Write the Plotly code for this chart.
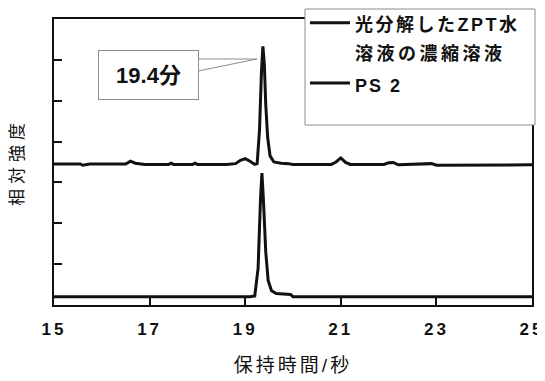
import plotly.graph_objects as go

# ---------------- data ----------------
upper_name_lines = ["光分解したZPT水", "溶液の濃縮溶液"]
lower_name = "PS 2"

upper_t = [15.0, 15.55, 15.6, 15.75, 16.5, 16.6, 16.7, 16.9, 17.4, 17.45, 17.5, 17.9, 17.95,
           18.0, 18.6, 18.8, 18.9, 19.0, 19.1, 19.2, 19.25, 19.3, 19.34, 19.37, 19.4, 19.43,
           19.47, 19.52, 19.6, 19.75, 19.9, 20.0, 20.8, 20.9, 21.0, 21.1, 21.2, 21.9, 22.0,
           22.1, 22.2, 22.5, 22.8, 22.9, 23.0, 23.4, 23.6, 25.0]
upper_v = [3.45, 3.45, 3.42, 3.45, 3.45, 3.52, 3.47, 3.44, 3.44, 3.47, 3.44, 3.44, 3.47,
           3.44, 3.44, 3.46, 3.54, 3.58, 3.52, 3.44, 3.46, 4.3, 5.7, 6.33, 5.9, 4.9,
           4.1, 3.65, 3.5, 3.47, 3.46, 3.44, 3.44, 3.5, 3.6, 3.49, 3.44, 3.44, 3.48,
           3.49, 3.43, 3.44, 3.44, 3.46, 3.42, 3.42, 3.43, 3.43]

lower_t = [15.0, 19.1, 19.2, 19.27, 19.32, 19.35, 19.38, 19.43, 19.48, 19.55, 19.65,
           19.95, 20.0, 25.0]
lower_v = [0.2, 0.2, 0.22, 0.9, 2.6, 3.23, 2.6, 1.3, 0.6, 0.35, 0.28,
           0.26, 0.2, 0.2]

x_ticks = [15, 17, 19, 21, 23, 25]
y_ticks = [1, 2, 3, 4, 5, 6]
peak_label = "19.4分"
x_title = "保持時間/秒"
y_title = "相対強度"

# ---------------- layout helpers ----------------
# The page body adds an 8px offset, so the figure is laid out in page
# coordinates shifted by OFF.
OFF = 8
W, H = 545 - OFF, 381 - OFF
# plot frame in screen pixels
SL, SR, ST, SB = 54, 532, 19, 305
L, R, T, B = SL - OFF, SR - OFF, ST - OFF, SB - OFF


def px(sx):
    return (sx - OFF - L) / (R - L)


def py(sy):
    return (B - (sy - OFF)) / (B - T)


def styled(s, sp, size=None, bold=False):
    st = f"letter-spacing:{sp}px"
    if size:
        st += f";font-size:{size}px"
    if bold:
        st += ";font-weight:bold"
    return f'<span style="{st}">{s}</span>'


FONT = "Liberation Sans, Arial, Noto Sans CJK JP, sans-serif"
INK = "#111111"
FRAME = "#8c8c8c"

fig = go.Figure()
fig.add_trace(go.Scatter(
    x=upper_t, y=upper_v, mode="lines",
    name=styled(upper_name_lines[0], 2.5, 18, True) + "<br>" + styled(upper_name_lines[1], 3.5, 18, True),
    line=dict(color=INK, width=3)))
fig.add_trace(go.Scatter(
    x=lower_t, y=lower_v, mode="lines",
    name=styled(lower_name, 2, 18, True),
    line=dict(color=INK, width=3)))

# legend frame
fig.add_shape(type="rect", xref="paper", yref="paper",
              x0=px(305), x1=px(535), y0=py(125), y1=py(9),
              line=dict(color=FRAME, width=1), fillcolor="white", layer="above")

# callout wedge
fig.add_shape(type="path", xref="paper", yref="paper",
              path=f"M {px(198)},{py(59)} L {px(257)},{py(59)} L {px(198)},{py(71)}",
              line=dict(color=FRAME, width=1), fillcolor="white", layer="above")

fig.add_annotation(xref="paper", yref="paper", x=px(148.5), y=py(75),
                   xanchor="center", yanchor="middle",
                   text="<b>" + peak_label + "</b>", showarrow=False,
                   width=97, height=46, bgcolor="white",
                   bordercolor=FRAME, borderwidth=1,
                   font=dict(size=22, color=INK, family=FONT))

fig.update_layout(
    width=W, height=H,
    margin=dict(l=L, r=W - R, t=T, b=H - B, autoexpand=False),
    paper_bgcolor="white", plot_bgcolor="white",
    showlegend=True,
    legend=dict(x=px(305), y=py(2), xanchor="left", yanchor="top",
                bgcolor="rgba(0,0,0,0)", borderwidth=0, valign="top",
                font=dict(size=22, color=INK, family=FONT),
                itemwidth=40, tracegroupgap=0),
    font=dict(family=FONT, color=INK),
)

fig.update_xaxes(range=[15, 25], tickvals=x_ticks,
                 ticktext=[styled(str(v), 3, bold=True) for v in x_ticks],
                 ticks="inside", ticklen=9, tickwidth=2, tickcolor=INK,
                 showline=True, linewidth=2, linecolor=INK, mirror=True,
                 showgrid=False, zeroline=False,
                 tickfont=dict(size=17, family=FONT), ticklabelstandoff=8,
                 title=dict(text=styled(x_title, 3), font=dict(size=19, family=FONT), standoff=20))
fig.update_yaxes(range=[0, 7], tickvals=y_ticks, showticklabels=False,
                 ticks="inside", ticklen=8, tickwidth=2, tickcolor=INK,
                 showline=True, linewidth=2, linecolor=INK, mirror=True,
                 showgrid=False, zeroline=False,
                 title=dict(text=styled(y_title, 5), font=dict(size=17, family=FONT), standoff=30))

fig.write_html("out.html")
